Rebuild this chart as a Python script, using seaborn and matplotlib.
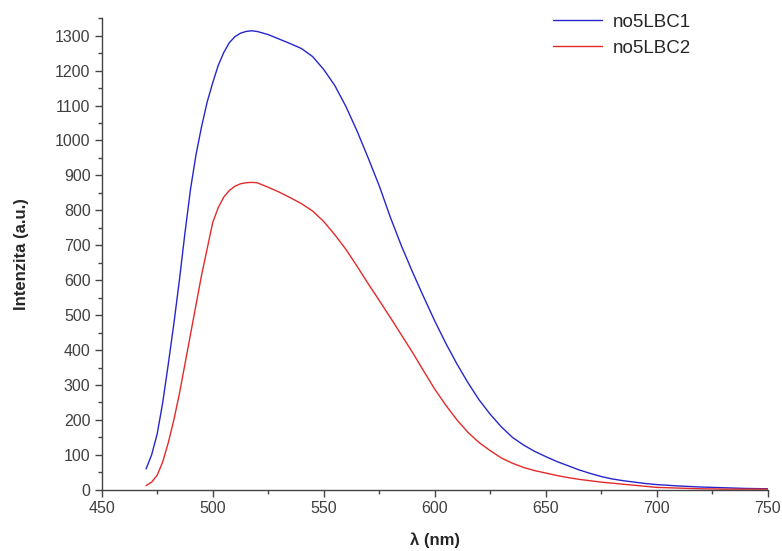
import matplotlib
matplotlib.use("Agg")
import matplotlib.pyplot as plt
import numpy as np
import pandas as pd
import seaborn as sns
from matplotlib.ticker import MultipleLocator

# wavelength grid (nm)
wavelength = [470, 472.5, 475, 477.5, 480, 482.5, 485, 487.5, 490, 492.5, 495, 497.5,
              500, 502.5, 505, 507.5, 510, 512.5, 515, 517.5, 520, 525, 530, 535,
              540, 545, 550, 555, 560, 565, 570, 575, 580, 585, 590, 595, 600, 605,
              610, 615, 620, 625, 630, 635, 640, 645, 650, 655, 660, 665, 670, 675,
              680, 685, 690, 695, 700, 710, 720, 730, 740, 750]

no5LBC1 = [60, 100, 160, 250, 360, 475, 600, 735, 860, 960, 1040, 1110,
           1165, 1215, 1252, 1280, 1297, 1307, 1312, 1314, 1312, 1303, 1290, 1277,
           1263, 1240, 1203, 1157, 1097, 1027, 950, 870, 780, 698, 623, 552, 483, 419,
           360, 306, 257, 216, 180, 150, 128, 110, 95, 81, 69, 57, 47, 38,
           31, 26, 22, 18, 15, 11, 8, 6, 4, 3]

no5LBC2 = [12, 22, 42, 80, 135, 200, 275, 360, 445, 530, 615, 690,
           765, 808, 838, 857, 869, 876, 879, 880, 879, 866, 852, 836,
           819, 798, 768, 730, 688, 640, 590, 542, 493, 443, 393, 340, 288, 242,
           200, 164, 135, 112, 91, 76, 64, 55, 48, 41, 35, 30, 26, 22,
           19, 16, 13, 10, 7, 5, 3, 2, 2, 2]

series_names = ["no5LBC1", "no5LBC2"]
colors = {"no5LBC1": "#2626cc", "no5LBC2": "#e32a2a"}

df = pd.concat([
    pd.DataFrame({"wl": wavelength, "I": no5LBC1, "sample": "no5LBC1"}),
    pd.DataFrame({"wl": wavelength, "I": no5LBC2, "sample": "no5LBC2"}),
])

sns.set_style("ticks")
plt.rcParams["font.family"] = ["Liberation Sans", "DejaVu Sans"]

fig = plt.figure(figsize=(7.82, 5.51), dpi=100)
ax = fig.add_axes([0.130, 0.111, 0.852, 0.856])

sns.lineplot(data=df, x="wl", y="I", hue="sample", palette=colors,
             hue_order=series_names, linewidth=1.0, ax=ax)

ax.set_xlim(450, 750)
ax.set_ylim(0, 1350)
ax.xaxis.set_major_locator(MultipleLocator(50))
ax.xaxis.set_minor_locator(MultipleLocator(25))
ax.yaxis.set_major_locator(MultipleLocator(100))
ax.yaxis.set_minor_locator(MultipleLocator(50))

for s in ["top", "right"]:
    ax.spines[s].set_visible(False)
for s in ["left", "bottom"]:
    ax.spines[s].set_color("#444444")
    ax.spines[s].set_linewidth(1.0)

ax.tick_params(which="major", direction="out", length=5, width=1.0,
               color="#444444", labelsize=11.5, labelcolor="#404040", pad=3)
ax.tick_params(which="minor", direction="out", length=3, width=1.0, color="#444444")

ax.set_xlabel("λ (nm)", fontsize=12, fontweight="bold", labelpad=12)
ax.set_ylabel("Intenzita (a.u.)", fontsize=12, fontweight="bold", labelpad=19)

ax.legend(frameon=False, loc="upper right", bbox_to_anchor=(0.91, 1.045),
          fontsize=13.5, handlelength=2.6, handletextpad=0.6, labelspacing=0.45)

fig.savefig("out.png", dpi=100)
